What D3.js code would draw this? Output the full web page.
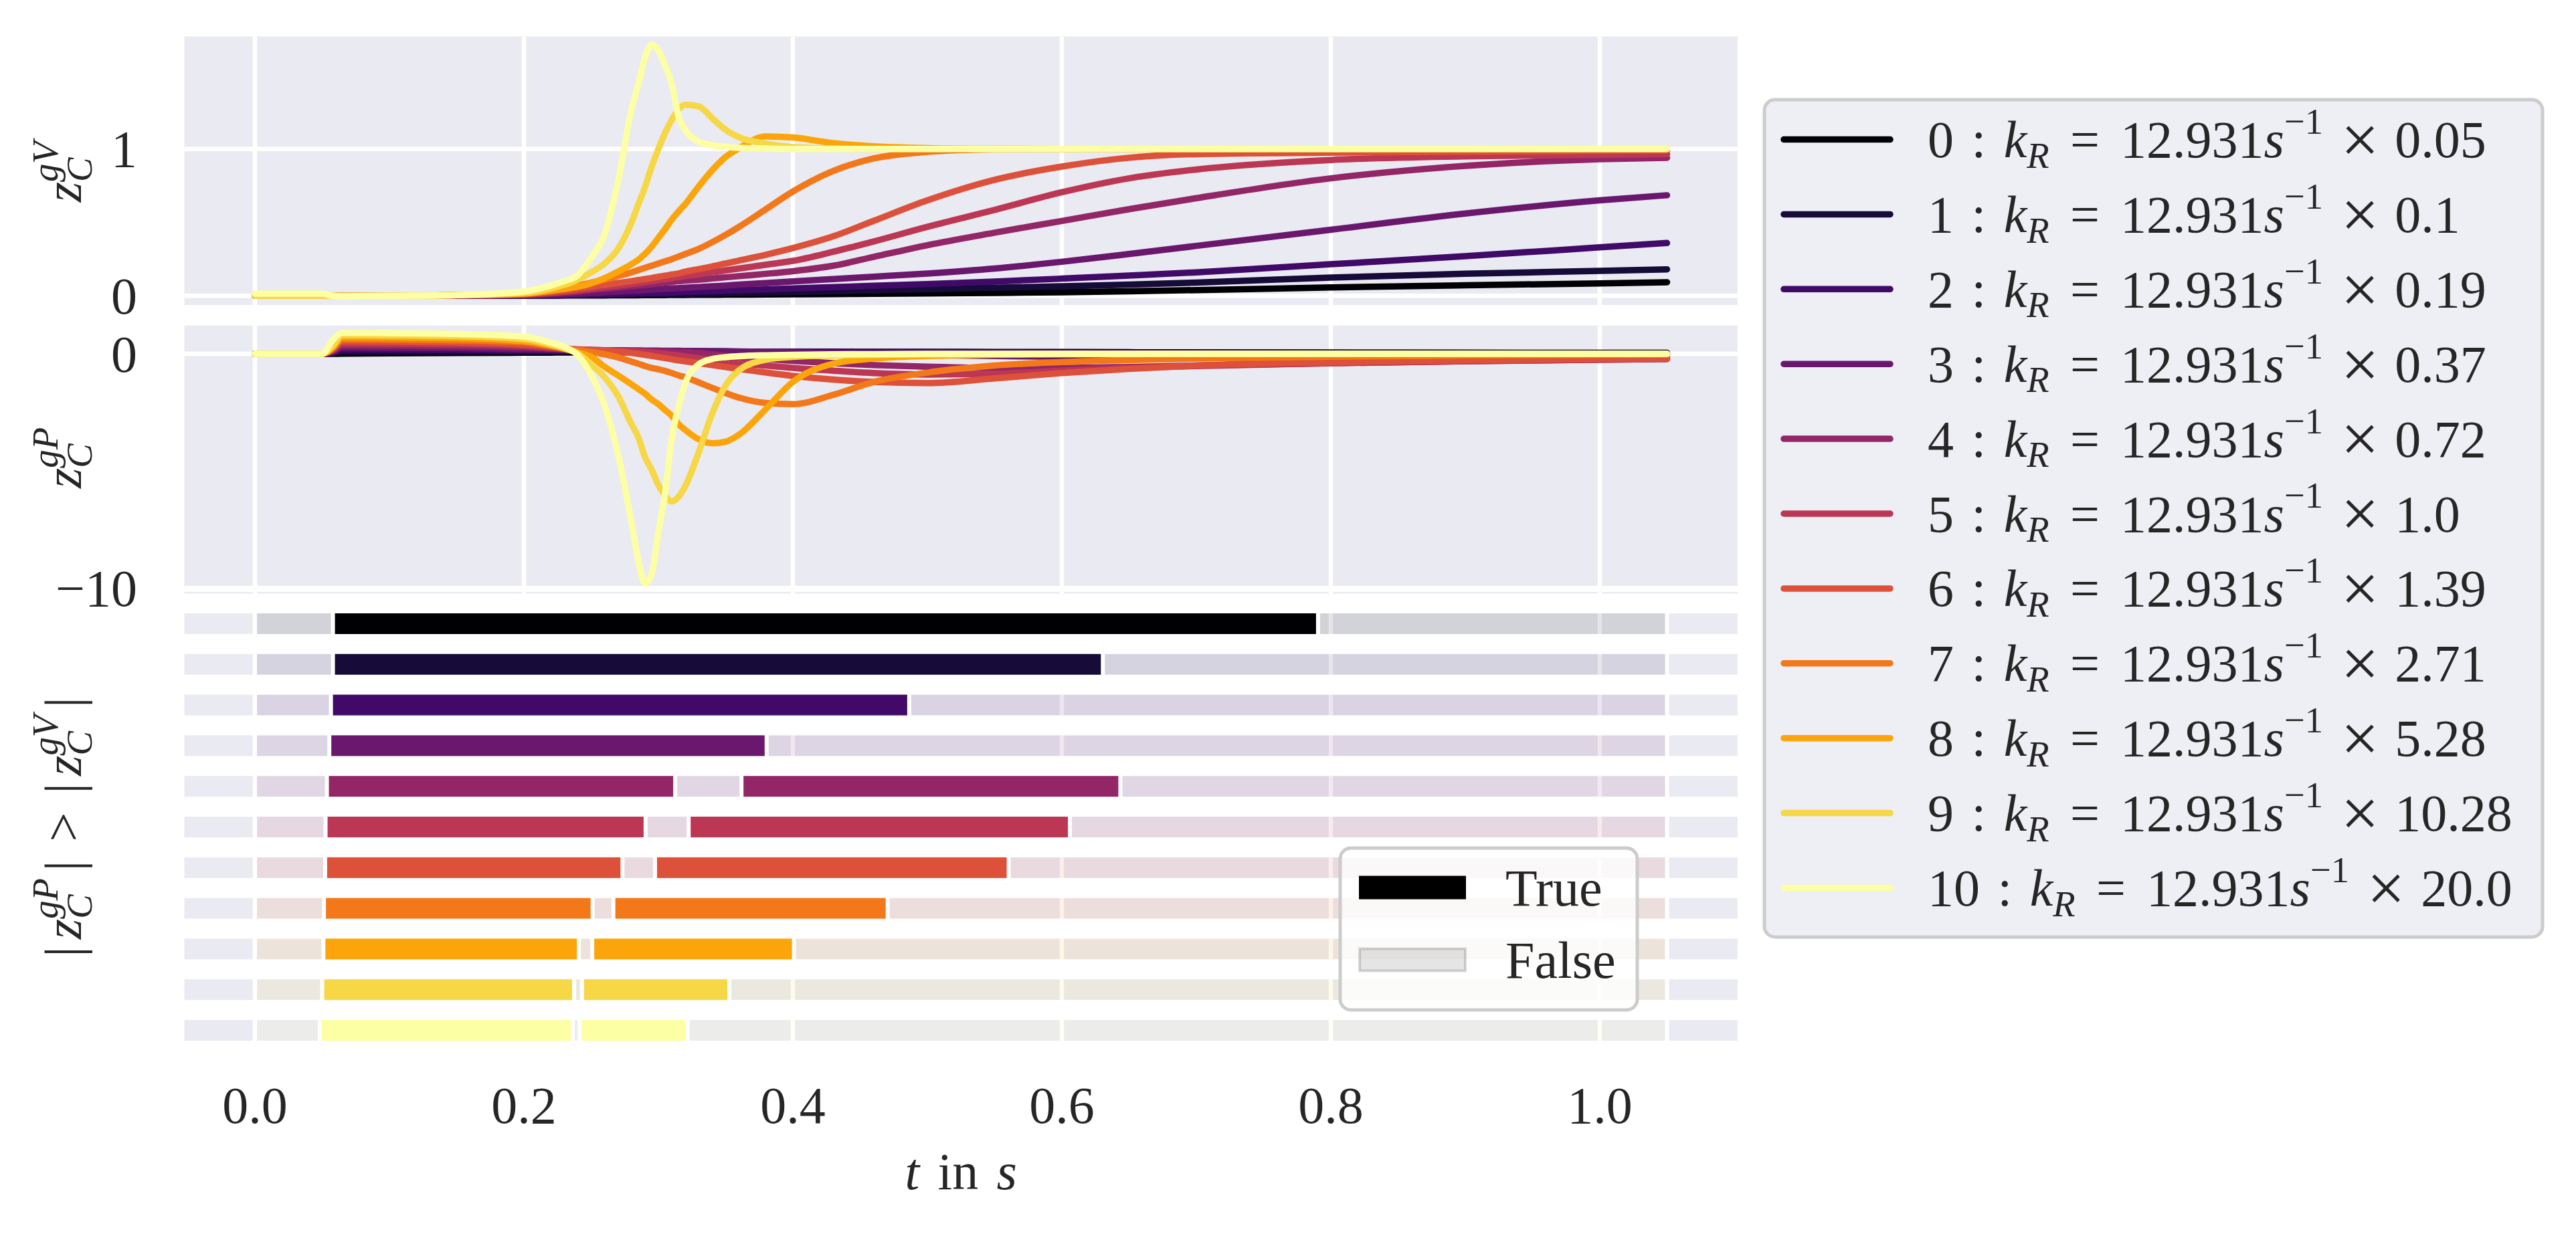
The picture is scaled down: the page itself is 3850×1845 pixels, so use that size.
<!DOCTYPE html>
<html>
<head>
<meta charset="utf-8">
<script src="https://cdn.jsdelivr.net/npm/d3@7"></script>
<style>
  html, body { margin: 0; padding: 0; background: #fff; }
  svg text { font-family: "Liberation Serif", "DejaVu Serif", serif; fill: #262626; }
</style>
</head>
<body>
<svg id="chart" width="3850" height="1845"></svg>
<script>
// time samples shared by every curve (s)
const tGrid = [0, 0.05, 0.058, 0.065, 0.1, 0.15, 0.2,
  0.22, 0.23, 0.24, 0.25, 0.26, 0.27, 0.28,
  0.285, 0.29, 0.295, 0.3, 0.305, 0.31, 0.315, 0.32,
  0.33, 0.34, 0.35, 0.36, 0.38, 0.4,
  0.43, 0.46, 0.5, 0.55, 0.6, 0.65, 0.7, 0.8, 0.9, 1.0, 1.05];

// k_R factors (legend)
const kFactors = ["0.05", "0.1", "0.19", "0.37", "0.72", "1.0", "1.39", "2.71", "5.28", "10.28", "20.0"];

// z_C^gV, one array per k_R
const gv0 = [0,0,0,0,0,0,0.001, 0.001,0.002,0.002,0.003,0.003,0.004,0.004, 0.004,0.005,0.005,0.005,0.005,0.006,0.006,0.006, 0.007,0.007,0.008,0.008,0.009,0.01, 0.012,0.014,0.016,0.02,0.024,0.031,0.039,0.057,0.072,0.085,0.093];
const gv1 = [0,0,0,0,0,0.001,0.002, 0.003,0.004,0.005,0.006,0.007,0.008,0.009, 0.009,0.01,0.01,0.011,0.011,0.012,0.012,0.013, 0.014,0.016,0.017,0.019,0.022,0.025, 0.031,0.037,0.045,0.055,0.065,0.076,0.09,0.124,0.15,0.17,0.18];
const gv2 = [0,0,0,0,0,0.001,0.003, 0.005,0.006,0.008,0.01,0.012,0.014,0.016, 0.017,0.018,0.019,0.02,0.021,0.023,0.024,0.026, 0.029,0.032,0.035,0.038,0.044,0.05, 0.059,0.068,0.08,0.097,0.117,0.138,0.16,0.215,0.27,0.33,0.36];
const gv3 = [0,0,0,0,0,0.002,0.005, 0.009,0.012,0.015,0.02,0.024,0.029,0.034, 0.036,0.039,0.042,0.045,0.048,0.05,0.053,0.055, 0.06,0.065,0.07,0.076,0.087,0.098, 0.114,0.13,0.152,0.186,0.232,0.285,0.34,0.45,0.56,0.65,0.685];
const gv4 = [0,0,0,0,0,0.003,0.008, 0.016,0.022,0.03,0.04,0.048,0.057,0.066, 0.07,0.075,0.08,0.085,0.09,0.095,0.1,0.104, 0.11,0.118,0.126,0.134,0.15,0.168, 0.205,0.265,0.345,0.43,0.51,0.59,0.665,0.8,0.885,0.93,0.94];
const gv5 = [0,0,0,0,0,0.004,0.01, 0.02,0.027,0.036,0.048,0.058,0.068,0.08, 0.086,0.093,0.1,0.107,0.113,0.12,0.127,0.134, 0.147,0.16,0.173,0.186,0.212,0.238, 0.3,0.37,0.47,0.585,0.705,0.8,0.86,0.925,0.95,0.96,0.965];
const gv6 = [0,0,0,0,0,0.004,0.012, 0.025,0.035,0.048,0.062,0.075,0.088,0.1, 0.107,0.114,0.121,0.13,0.137,0.145,0.152,0.165, 0.182,0.2,0.22,0.24,0.28,0.325, 0.405,0.51,0.65,0.79,0.88,0.94,0.965,0.975,0.982,0.987,0.99];
const gv7 = [0,0,0,0,0,0.005,0.015, 0.035,0.05,0.068,0.09,0.11,0.135,0.16, 0.175,0.19,0.205,0.22,0.235,0.25,0.267,0.285, 0.32,0.365,0.415,0.47,0.59,0.71, 0.85,0.935,0.98,0.997,1,1,1,1,1,1,1];
const gv8 = [0,0,0,0,0,0.005,0.015, 0.035,0.048,0.062,0.085,0.12,0.165,0.215, 0.245,0.285,0.335,0.395,0.455,0.52,0.575,0.625, 0.745,0.855,0.945,1.005,1.085,1.078, 1.04,1.018,1.006,1.001,1,1,1,1,1,1,1];
const gv9 = [0,0,0,0,0,0.005,0.02, 0.05,0.075,0.11,0.16,0.22,0.32,0.5, 0.62,0.74,0.88,1.0,1.11,1.2,1.27,1.3, 1.29,1.21,1.13,1.08,1.035,1.012, 1.003,1,1,1,1,1,1,1,1,1,1];
const gv10 = [0.015,0.015,0,-0.003,0,0.005,0.03, 0.07,0.1,0.14,0.26,0.42,0.78,1.27, 1.44,1.62,1.71,1.67,1.57,1.44,1.22,1.13, 1.05,1.025,1.015,1.008,1.003,1, 1,1,1,1,1,1,1,1,1,1,1];

// z_C^gP, one array per k_R
const gp0 = [0,0,0,0.01,0.02,0.035,0.05, 0.055,0.057,0.06,0.061,0.062,0.063,0.064, 0.064,0.065,0.065,0.065,0.066,0.066,0.066,0.066, 0.067,0.067,0.067,0.068,0.068,0.068, 0.068,0.068,0.067,0.066,0.065,0.063,0.06,0.055,0.05,0.045,0.043];
const gp1 = [0,0,0.03,0.09,0.09,0.095,0.1, 0.1,0.1,0.1,0.1,0.1,0.1,0.1, 0.1,0.1,0.1,0.1,0.1,0.1,0.1,0.1, 0.099,0.099,0.099,0.098,0.097,0.095, 0.092,0.09,0.087,0.083,0.078,0.07,0.062,0.05,0.04,0.03,0.028];
const gp2 = [0,0,0.06,0.18,0.18,0.17,0.14, 0.135,0.13,0.125,0.12,0.118,0.116,0.114, 0.113,0.112,0.111,0.11,0.109,0.108,0.107,0.106, 0.104,0.102,0.1,0.098,0.095,0.09, 0.085,0.08,0.07,0.055,0.04,0.03,0.02,0,-0.02,-0.03,-0.035];
const gp3 = [0,0,0.1,0.27,0.26,0.25,0.2, 0.19,0.18,0.17,0.16,0.155,0.15,0.145, 0.143,0.14,0.138,0.135,0.133,0.13,0.128,0.125, 0.12,0.115,0.11,0.1,0.088,0.07, 0.03,-0.01,-0.05,-0.09,-0.12,-0.15,-0.17,-0.2,-0.2,-0.19,-0.18];
const gp4 = [0,0,0.13,0.35,0.35,0.33,0.28, 0.22,0.19,0.17,0.16,0.15,0.14,0.13, 0.125,0.12,0.11,0.105,0.1,0.093,0.083,0.07, 0.035,-0.02,-0.08,-0.135,-0.22,-0.3, -0.4,-0.48,-0.55,-0.6,-0.6,-0.56,-0.5,-0.4,-0.31,-0.25,-0.22];
const gp5 = [0,0,0.17,0.44,0.43,0.41,0.34, 0.26,0.21,0.19,0.17,0.15,0.13,0.11, 0.1,0.088,0.06,0.03,0,-0.03,-0.07,-0.11, -0.19,-0.26,-0.33,-0.4,-0.5,-0.6, -0.72,-0.82,-0.88,-0.85,-0.72,-0.6,-0.52,-0.4,-0.31,-0.25,-0.22];
const gp6 = [0,0,0.2,0.53,0.52,0.49,0.4, 0.3,0.23,0.19,0.16,0.13,0.095,0.04, 0,-0.04,-0.085,-0.135,-0.18,-0.23,-0.28,-0.32, -0.4,-0.48,-0.56,-0.64,-0.8,-0.94, -1.1,-1.2,-1.25,-1.05,-0.82,-0.64,-0.5,-0.36,-0.28,-0.22,-0.2];
const gp7 = [0,0,0.25,0.62,0.61,0.58,0.5, 0.33,0.25,0.16,0.08,-0.02,-0.15,-0.33, -0.42,-0.52,-0.6,-0.66,-0.73,-0.82,-0.92,-1.0, -1.22,-1.45,-1.67,-1.87,-2.1,-2.15, -1.75,-1.2,-0.8,-0.5,-0.35,-0.26,-0.2,-0.12,-0.07,-0.04,-0.03];
const gp8 = [0,0,0.3,0.71,0.7,0.67,0.55, 0.36,0.22,0.06,-0.12,-0.55,-0.92,-1.3, -1.5,-1.7,-1.95,-2.15,-2.4,-2.65,-3.0,-3.25, -3.65,-3.82,-3.75,-3.45,-2.35,-1.2, -0.42,-0.2,-0.09,-0.04,-0.02,-0.01,0,0,0,0,0];
const gp9 = [0,0,0.35,0.8,0.79,0.76,0.64, 0.4,0.24,0.02,-0.45,-1.0,-1.8,-3.0, -3.55,-4.4,-4.95,-5.6,-6.05,-6.3,-6.1,-5.65, -4.2,-2.55,-1.35,-0.7,-0.25,-0.13, -0.07,-0.04,-0.02,-0.01,0,0,0,0,0,0,0];
const gp10 = [0,0,0.6,0.9,0.89,0.85,0.74, 0.48,0.3,-0.05,-0.9,-2.2,-4.3,-7.2, -8.8,-9.8,-9.4,-7.6,-5.95,-3.6,-2.25,-1.25, -0.45,-0.22,-0.14,-0.1,-0.06,-0.04, -0.02,-0.01,0,0,0,0,0,0,0,0,0];

// intervals where |z_C^gP| > |z_C^gV| (True), per k_R
const ts0 = [[0.058, 0.7905]];
const ts1 = [[0.058, 0.6305]];
const ts2 = [[0.0565, 0.4865]];
const ts3 = [[0.0553, 0.3805]];
const ts4 = [[0.0535, 0.3125], [0.3618, 0.6435]];
const ts5 = [[0.0525, 0.2905], [0.3225, 0.606]];
const ts6 = [[0.0522, 0.2733], [0.2975, 0.5605]];
const ts7 = [[0.0513, 0.2511], [0.2665, 0.4705]];
const ts8 = [[0.0509, 0.2409], [0.2508, 0.4008]];
const ts9 = [[0.05, 0.2373], [0.2432, 0.3528]];
const ts10 = [[0.0482, 0.2364], [0.2414, 0.3217]];
const tRange = [0, 1.05];

// ticks
const xTicks = [0, 0.2, 0.4, 0.6, 0.8, 1.0];
const xTickLabels = ["0.0", "0.2", "0.4", "0.6", "0.8", "1.0"];
const topTicks = [0, 1];
const topTickLabels = ["0", "1"];
const midTicks = [0, -10];
const midTickLabels = ["0", "\u221210"];
const flagLabels = ["True", "False"];

const gvSeries = [gv0, gv1, gv2, gv3, gv4, gv5, gv6, gv7, gv8, gv9, gv10];
const gpSeries = [gp0, gp1, gp2, gp3, gp4, gp5, gp6, gp7, gp8, gp9, gp10];
const trueSpans = [ts0, ts1, ts2, ts3, ts4, ts5, ts6, ts7, ts8, ts9, ts10];

const bg = "#EAEAF2";
const fs = 78;
const lw = 9.5;
const gridW = 6.5;
const color = i => d3.interpolateInferno(i / (kFactors.length - 1));

const svg = d3.select("#chart");

// set the scales
const x = d3.scaleLinear().domain([-0.0525, 1.1025]).range([275.5, 2597]);
const yTop = d3.scaleLinear().domain([-0.0624, 1.766]).range([456, 54.5]);
const yMid = d3.scaleLinear().domain([-10, 1.21]).range([879.2, 486.7]);
const rowY = d3.scalePoint().domain(d3.range(kFactors.length)).range([932.5, 1540.5]);
const bandH = 31;

// little helper for math-like labels: z_C^{gV}, k_R, s^{-1} ...
function mathText(g, tokens, size) {
  let cx = 0;
  tokens.forEach(tk => {
    if (tk.gap) { cx += tk.gap * size; return; }
    if (tk.sub !== undefined || tk.sup !== undefined) {
      let w = 0;
      if (tk.sup) {
        const t = g.append("text").attr("x", cx).attr("y", -0.45 * size)
          .attr("font-size", size * 0.7)
          .style("font-style", tk.supRoman ? "normal" : "italic").text(tk.sup);
        w = Math.max(w, t.node().getComputedTextLength());
      }
      if (tk.sub) {
        const t = g.append("text").attr("x", cx).attr("y", 0.2 * size)
          .attr("font-size", size * 0.7).style("font-style", "italic").text(tk.sub);
        w = Math.max(w, t.node().getComputedTextLength());
      }
      cx += w + 0.04 * size;
      return;
    }
    const t = g.append("text").attr("x", cx).attr("y", (tk.dy || 0) * size)
      .attr("font-size", size * (tk.scale || 1))
      .style("font-style", tk.it ? "italic" : "normal").text(tk.s);
    cx += t.node().getComputedTextLength();
  });
  return cx;
}

function panel(yScale, yTicks, yLabels, series, clipId) {
  const [y1, y0] = yScale.range();
  svg.append("rect").attr("x", x.range()[0]).attr("y", y0)
    .attr("width", x.range()[1] - x.range()[0]).attr("height", y1 - y0).attr("fill", bg);
  svg.append("clipPath").attr("id", clipId).append("rect")
    .attr("x", x.range()[0]).attr("y", y0)
    .attr("width", x.range()[1] - x.range()[0]).attr("height", y1 - y0);
  const grid = svg.append("g").attr("clip-path", `url(#${clipId})`);
  grid.selectAll(".vg").data(xTicks).join("line")
    .attr("x1", d => x(d)).attr("x2", d => x(d)).attr("y1", y0).attr("y2", y1)
    .attr("stroke", "#fff").attr("stroke-width", gridW);
  grid.selectAll(".hg").data(yTicks).join("line")
    .attr("x1", x.range()[0]).attr("x2", x.range()[1])
    .attr("y1", d => yScale(d)).attr("y2", d => yScale(d))
    .attr("stroke", "#fff").attr("stroke-width", gridW);

  const line = d3.line().x((d, i) => x(tGrid[i])).y(d => yScale(d)).curve(d3.curveMonotoneX);
  svg.append("g").attr("clip-path", `url(#${clipId})`)
    .selectAll("path").data(series).join("path")
    .attr("d", line).attr("fill", "none")
    .attr("stroke", (d, i) => color(i)).attr("stroke-width", lw)
    .attr("stroke-linecap", "round").attr("stroke-linejoin", "round");

  svg.selectAll(null).data(yTicks).join("text")
    .attr("x", 205).attr("y", d => yScale(d) + 0.34 * fs)
    .attr("text-anchor", "end").attr("font-size", fs)
    .text((d, i) => yLabels[i]);
}

panel(yTop, topTicks, topTickLabels, gvSeries, "clipTop");
panel(yMid, midTicks, midTickLabels, gpSeries, "clipMid");

// bottom panel: one track per k_R
const bottom = svg.append("g");
bottom.append("rect").attr("x", x.range()[0]).attr("y", 885)
  .attr("width", x.range()[1] - x.range()[0]).attr("height", 2.5).attr("fill", bg);
bottom.selectAll(".track").data(trueSpans).join("rect")
  .attr("x", x.range()[0]).attr("y", (d, i) => rowY(i) - bandH / 2)
  .attr("width", x.range()[1] - x.range()[0]).attr("height", bandH).attr("fill", bg);
bottom.selectAll(".bg").data(xTicks).join("line")
  .attr("x1", d => x(d)).attr("x2", d => x(d)).attr("y1", 884).attr("y2", 1560)
  .attr("stroke", "#fff").attr("stroke-width", gridW);
// False everywhere, True on top
bottom.selectAll(".falseBar").data(trueSpans).join("rect")
  .attr("x", x(tRange[0])).attr("y", (d, i) => rowY(i) - bandH / 2 - 3)
  .attr("width", x(tRange[1]) - x(tRange[0])).attr("height", bandH + 6)
  .attr("fill", (d, i) => color(i)).attr("fill-opacity", 0.1)
  .attr("stroke", "#fff").attr("stroke-width", 6);
trueSpans.forEach((spans, i) => {
  bottom.selectAll(null).data(spans).join("rect")
    .attr("x", d => x(d[0])).attr("y", rowY(i) - bandH / 2 - 3)
    .attr("width", d => x(d[1]) - x(d[0])).attr("height", bandH + 6)
    .attr("fill", color(i)).attr("stroke", "#fff").attr("stroke-width", 6);
});

// x axis
svg.selectAll(".xt").data(xTicks).join("text")
  .attr("x", d => x(d)).attr("y", 1679).attr("text-anchor", "middle")
  .attr("font-size", fs).text((d, i) => xTickLabels[i]);
{
  const g = svg.append("g");
  const w = mathText(g, [{ s: "t", it: true }, { gap: 0.35 }, { s: "in" }, { gap: 0.35 }, { s: "s", it: true }], fs);
  g.attr("transform", `translate(${(x.range()[0] + x.range()[1]) / 2 - w / 2},1778)`);
}

// y labels (rotated)
function yLabel(tokens, yc) {
  const outer = svg.append("g").attr("transform", `translate(121,${yc}) rotate(-90)`);
  const g = outer.append("g");
  const w = mathText(g, tokens, fs);
  g.attr("transform", `translate(${-w / 2},0)`);
}
yLabel([{ s: "z", it: true }, { sub: "C", sup: "gV" }], (yTop.range()[0] + yTop.range()[1]) / 2);
yLabel([{ s: "z", it: true }, { sub: "C", sup: "gP" }], (yMid.range()[0] + yMid.range()[1]) / 2);
yLabel([{ s: "|" }, { gap: 0.14 }, { s: "z", it: true }, { sub: "C", sup: "gP" }, { gap: 0.1 }, { s: "|" },
  { gap: 0.36 }, { s: ">" }, { gap: 0.36 },
  { s: "|" }, { gap: 0.14 }, { s: "z", it: true }, { sub: "C", sup: "gV" }, { gap: 0.1 }, { s: "|" }],
  (rowY(0) + rowY(kFactors.length - 1)) / 2);

// main legend
const leg = svg.append("g");
leg.append("rect").attr("x", 2637).attr("y", 149).attr("width", 1163).attr("height", 1252)
  .attr("rx", 16).attr("fill", bg).attr("fill-opacity", 0.8)
  .attr("stroke", "#cccccc").attr("stroke-width", 5);
const legY = d3.scaleLinear().domain([0, kFactors.length - 1]).range([208.6, 1327.4]);
kFactors.forEach((f, i) => {
  leg.append("line").attr("x1", 2666).attr("x2", 2825)
    .attr("y1", legY(i)).attr("y2", legY(i))
    .attr("stroke", color(i)).attr("stroke-width", lw).attr("stroke-linecap", "round");
  const g = leg.append("g").attr("transform", `translate(2881,${legY(i) + 0.34 * fs})`);
  mathText(g, [{ s: String(i) }, { gap: 0.34 }, { s: ":" }, { gap: 0.34 }, { s: "k", it: true }, { sub: "R" },
    { gap: 0.36 }, { s: "=" }, { gap: 0.4 }, { s: "12.931" }, { s: "s", it: true }, { sup: "\u22121", supRoman: true },
    { gap: 0.3 }, { s: "\u00d7", scale: 1.3, dy: 0.1 }, { gap: 0.3 }, { s: f }], fs);
});

// True / False legend
const leg2 = svg.append("g");
leg2.append("rect").attr("x", 2003).attr("y", 1268).attr("width", 444).attr("height", 242)
  .attr("rx", 16).attr("fill", "#fff").attr("fill-opacity", 0.8)
  .attr("stroke", "#cccccc").attr("stroke-width", 5);
const flagY = d3.scalePoint().domain(flagLabels).range([1327, 1435]);
leg2.append("rect").attr("x", 2031).attr("y", flagY("True") - 17.5).attr("width", 160).attr("height", 35)
  .attr("fill", "#000");
leg2.append("rect").attr("x", 2032).attr("y", flagY("False") - 16.5).attr("width", 158).attr("height", 33)
  .attr("fill", "#000").attr("fill-opacity", 0.1).attr("stroke", "#000").attr("stroke-opacity", 0.15)
  .attr("stroke-width", 4);
leg2.selectAll(".fl").data(flagLabels).join("text")
  .attr("x", 2250).attr("y", d => flagY(d) + 0.34 * fs).attr("font-size", fs).text(d => d);
</script>
</body>
</html>
